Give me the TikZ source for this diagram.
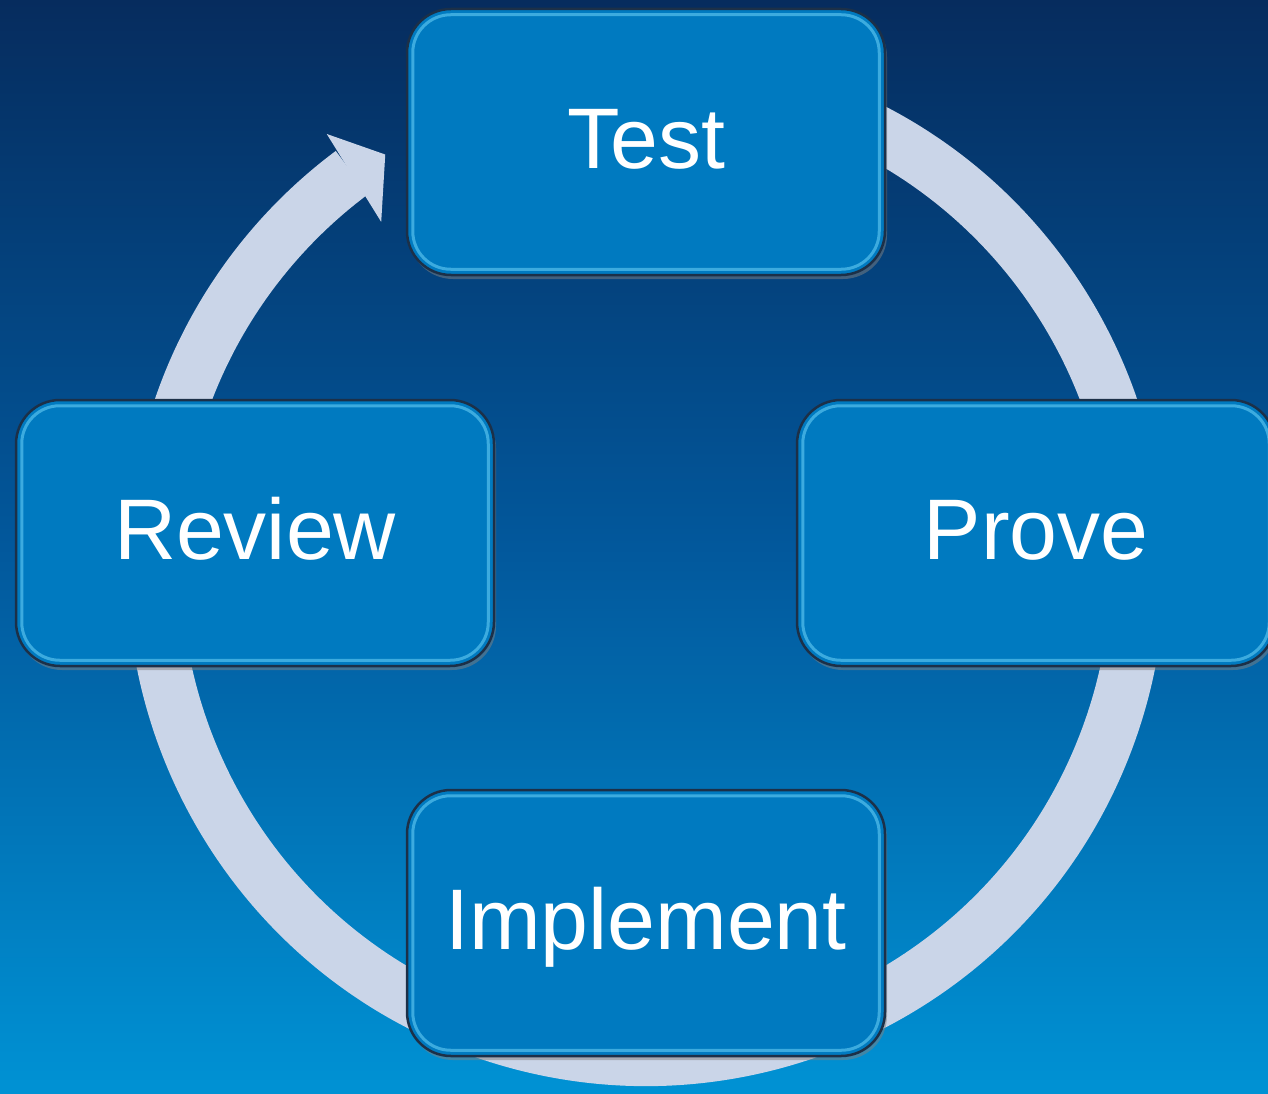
\documentclass[tikz,border=0pt]{standalone}
\usepackage{fontspec}
\setmainfont{Liberation Sans}
\usetikzlibrary{shadows}
\definecolor{bgtop}{RGB}{6,44,94}
\definecolor{bgmid}{RGB}{2,88,156}
\definecolor{bgbot}{RGB}{0,146,212}
\definecolor{boxblue}{RGB}{0,122,192}
\definecolor{boxedge}{RGB}{28,48,72}
\definecolor{hilite}{RGB}{100,205,245}
\definecolor{ringcol}{RGB}{202,213,232}
\begin{document}
\begin{tikzpicture}[x=1pt,y=1pt,
  stepbox/.style={draw=boxedge, line width=2.5pt, fill=boxblue, rounded corners=44pt,
    minimum width=478pt, minimum height=266pt, inner sep=0pt, text=white,
    font=\fontsize{86}{86}\selectfont, text height=62pt, text depth=10pt,
    drop shadow={shadow xshift=2pt, shadow yshift=-4pt, opacity=0.5}},
  hl/.style={draw=hilite, line width=3pt, rounded corners=38pt, opacity=0.6},
  ringline/.style={draw=ringcol, line width=54pt},
  ringhead/.style={fill=ringcol}]
\clip (0,0) rectangle (1268,-1094);
\shade[top color=bgtop, bottom color=bgbot, middle color=bgmid] (0,0) rectangle (1268,-1094);
\coordinate (c) at (646,-567);
% cycle ring with arrow
\draw[ringline] ([shift={(70:492pt)}]c) arc[start angle=70, end angle=-233.3, radius=492pt];
\fill[ringhead] ([shift={(126.4:538pt)}]c) -- ([shift={(122.3:488pt)}]c) -- ([shift={(127.5:435pt)}]c) -- cycle;
% boxes
\node[stepbox] (test) at (646,-142) {Test};
\node[stepbox] (review) at (255,-533) {Review};
\node[stepbox] (prove) at (1036,-533) {Prove};
\node[stepbox] (implement) at (646,-923) {Implement};
\foreach \n in {test,review,prove,implement}{
  \draw[hl] ([shift={(7pt,-7pt)}]\n.north west) rectangle ([shift={(-7pt,7pt)}]\n.south east);
}
\end{tikzpicture}
\end{document}
